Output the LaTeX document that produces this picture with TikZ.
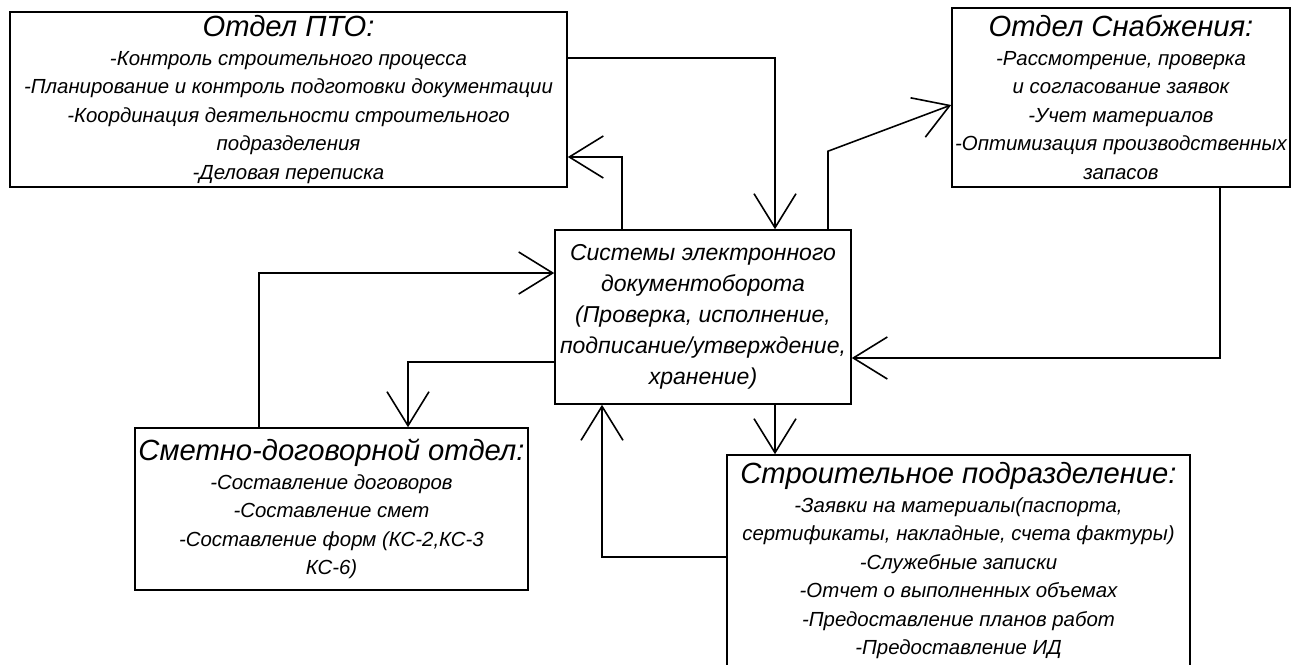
\documentclass[tikz,border=0pt]{standalone}
\usepackage{fontspec}
\setmainfont{Liberation Sans}
\usetikzlibrary{arrows.meta}
\newcommand\ttl{\fontsize{14.6}{20}\selectfont}

\begin{document}
\begin{tikzpicture}[x=0.5pt,y=-0.5pt,
    box/.style={draw,line width=0.8pt,align=center,inner sep=0pt,
      font=\itshape\fontsize{10.2}{14.25}\selectfont},
    arr/.style={line width=0.8pt,-{Straight Barb[length=17pt,width=21pt]}}]
  \useasboundingbox (0,0) rectangle (1295,664);
  \clip (0,0) rectangle (1295,664);

  % departments
  \node[box,minimum width=278.5pt,minimum height=87.5pt] (pto) at (288.5,99.5)
    {{\ttl Отдел ПТО:}\\
     -Контроль строительного процесса\\
     -Планирование и контроль подготовки документации\\
     -Координация деятельности строительного\\
     подразделения\\
     -Деловая переписка};
  \node[box,minimum width=169pt,minimum height=89.5pt] (snab) at (1121,97.5)
    {{\ttl Отдел Снабжения:}\\
     -Рассмотрение, проверка\\
     и согласование заявок\\
     -Учет материалов\\
     -Оптимизация производственных\\
     запасов};
  \node[box,minimum width=148pt,minimum height=87pt,
        font=\itshape\fontsize{11.5}{15.5}\selectfont] (edo) at (703,317)
    {Системы электронного\\
     документоборота\\
     (Проверка, исполнение,\\
     подписание/утверждение,\\
     хранение)};
  \node[box,minimum width=196.5pt,minimum height=81pt] (smeta) at (331.5,509)
    {{\ttl Сметно-договорной отдел:}\\
     -Составление договоров\\
     -Составление смет\\
     -Составление форм (КС-2,КС-3\\
     КС-6)};
  \node[box,minimum width=231.5pt,minimum height=106pt] (stroi) at (958.5,561)
    {{\ttl Строительное подразделение:}\\
     -Заявки на материалы(паспорта,\\
     сертификаты, накладные, счета фактуры)\\
     -Служебные записки\\
     -Отчет о выполненных объемах\\
     -Предоставление планов работ\\
     -Предоставление ИД};

  % connections
  \draw[arr] ([yshift=20.75pt]pto.east) -| ([xshift=36pt]edo.north);
  \draw[arr] ([xshift=-40.5pt]edo.north) |- ([yshift=-28.75pt]pto.east);
  \draw[arr] ([xshift=62.5pt]edo.north) -- ([xshift=62.5pt,yshift=39pt]edo.north)
    -- ([yshift=-3.75pt]snab.west);
  \draw[arr] ([xshift=49.5pt]snab.south) |- ([yshift=-20.5pt]edo.east);
  \draw[arr] ([xshift=36pt]edo.south) -- ([xshift=36pt]edo.south |- stroi.north);
  \draw[arr] ([yshift=2pt]stroi.west) -| ([xshift=-50.5pt]edo.south);
  \draw[arr] ([xshift=-36.25pt]smeta.north) |- ([yshift=22pt]edo.west);
  \draw[arr] ([yshift=-22.5pt]edo.west) -| ([xshift=38.25pt]smeta.north);
\end{tikzpicture}
\end{document}
